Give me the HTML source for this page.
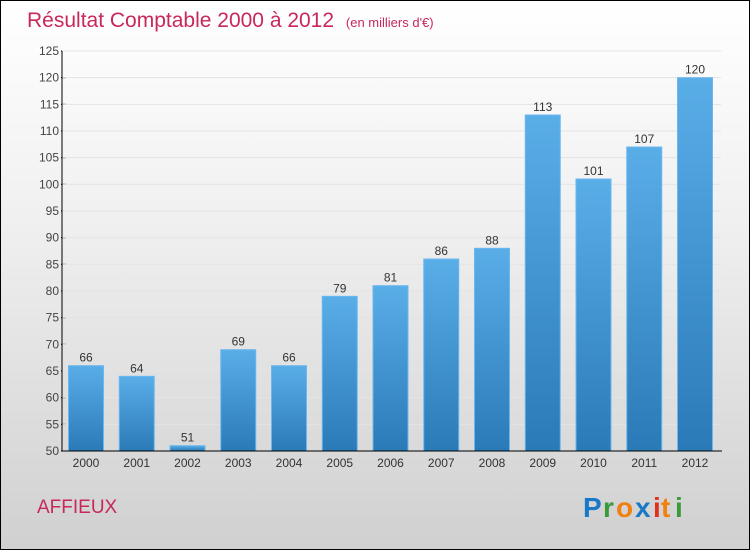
<!DOCTYPE html>
<html><head><meta charset="utf-8"><style>
body{margin:0}
#c{position:relative;width:748px;height:548px;border:1px solid #000;background:linear-gradient(#ffffff,#f0f0f0 40%,#d0d0d0);font-family:"Liberation Sans",sans-serif;overflow:hidden}
</style></head><body>
<div id="c">
<svg id="s" width="748" height="548" xmlns="http://www.w3.org/2000/svg">
<defs><linearGradient id="g" x1="0" y1="0" x2="0" y2="1"><stop offset="0" stop-color="#5aaee8"/><stop offset="1" stop-color="#2a7ab8"/></linearGradient></defs>
<text x="26" y="26" font-size="21" fill="#c8285a">Résultat Comptable 2000 à 2012 <tspan font-size="13" dx="6">(en milliers d'€)</tspan></text>
<text x="36" y="512" font-size="19" fill="#c8285a">AFFIEUX</text>
<g font-size="28" font-weight="bold">
<text x="582" y="516" fill="#1a78c8">P</text><text x="602" y="516" fill="#3a9a3a">r</text><text x="615" y="516" fill="#f08010">o</text><text x="634" y="516" fill="#1a78c8">x</text><text x="652" y="516" fill="#e03020">i</text><text x="660" y="516" fill="#f08010">t</text><text x="674" y="516" fill="#3a9a3a">i</text>
</g>
<g id="plot"></g>
</svg></div>
<script>
const categories=["2000","2001","2002","2003","2004","2005","2006","2007","2008","2009","2010","2011","2012"];
const values=[66,64,51,69,66,79,81,86,88,113,101,107,120];
const yTicks=[50,55,60,65,70,75,80,85,90,95,100,105,110,115,120,125];
const NS="http://www.w3.org/2000/svg";
const p=document.getElementById('plot');
const y=v=>450-(v-50)*400/75, x=i=>85+i*50.75;
function el(t,a){const e=document.createElementNS(NS,t);for(const k in a)e.setAttribute(k,a[k]);p.appendChild(e);return e;}
yTicks.forEach(v=>{
 const l=el('line',{x1:60,x2:65,y1:y(v),y2:y(v),stroke:'#000'});
 
 
 const g=el('line',{x1:61,x2:720,y1:y(v),y2:y(v),stroke:'#e4e4e4'});
 
 
 const t=el('text',{x:58,y:y(v)+4,'text-anchor':'end','font-size':12,fill:'#444'});t.textContent=v;
 
 
});
categories.forEach((c,i)=>{
 const b=el('rect',{x:x(i)-17.5,y:y(values[i]),width:35,height:450-y(values[i]),fill:'url(#g)',stroke:'#6ab8f0'});
 
 
 const v=el('text',{x:x(i),y:y(values[i])-4,'text-anchor':'middle','font-size':12,fill:'#333'});v.textContent=values[i];
 
 
 const t=el('text',{x:x(i),y:466,'text-anchor':'middle','font-size':12,fill:'#333'});t.textContent=c;
 
 
});
const ya=el('line',{x1:61,x2:61,y1:50,y2:450,stroke:'#000'});


const xa=el('line',{x1:61,x2:721,y1:450,y2:450,stroke:'#000'});


</script>
</body></html>
